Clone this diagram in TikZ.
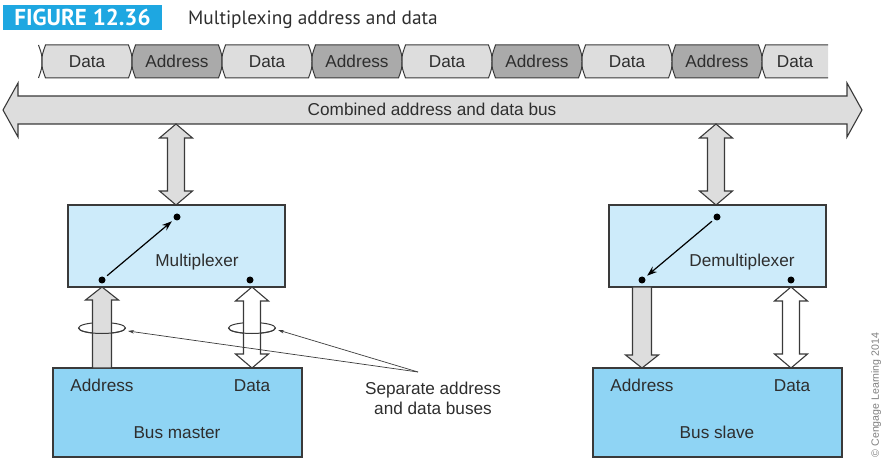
\documentclass[tikz,border=0pt]{standalone}
\usepackage{fontspec}
\setmainfont{Liberation Sans}
\newfontfamily\ptsans{PT Sans}
\usetikzlibrary{arrows.meta}
\definecolor{figblue}{HTML}{1EA7E1}
\definecolor{muxblue}{HTML}{CDEBFA}
\definecolor{boxblue}{HTML}{8FD4F4}
\definecolor{lgray}{HTML}{DDDDDD}
\definecolor{dgray}{HTML}{AAAAAA}
\definecolor{edge}{HTML}{3A3A3A}
\definecolor{txt}{HTML}{2E2E2E}
\newcommand\vdouble[4]{\draw[outl, fill=#4] (#1,#2) -- (#1+16.5,#2+14) -- (#1+8.5,#2+14) -- (#1+8.5,#3-14) -- (#1+16.5,#3-14) -- (#1,#3) -- (#1-16.5,#3-14) -- (#1-8.5,#3-14) -- (#1-8.5,#2+14) -- (#1-16.5,#2+14) -- cycle;}
\newcommand\vup[4]{\draw[outl, fill=#4] (#1,#2) -- (#1+16.5,#2+13) -- (#1+9.5,#2+13) -- (#1+9.5,#3) -- (#1-9.5,#3) -- (#1-9.5,#2+13) -- (#1-16.5,#2+13) -- cycle;}
\newcommand\vdown[4]{\draw[outl, fill=#4] (#1,#3) -- (#1+16.5,#3-13) -- (#1+9.5,#3-13) -- (#1+9.5,#2) -- (#1-9.5,#2) -- (#1-9.5,#3-13) -- (#1-16.5,#3-13) -- cycle;}
\begin{document}
\begin{tikzpicture}[x=1pt,y=-1pt,
  lbl/.style={font=\fontsize{17.2}{20}\selectfont, text=txt, inner sep=0pt, anchor=base},
  outl/.style={draw=edge, line width=1.1pt},
  dot/.style={circle, fill=black, inner sep=0pt, minimum size=7pt},
  boxstyle/.style={draw=edge, line width=1.1pt, inner sep=0pt},
  pointer/.style={draw=edge, line width=0.7pt, -{Stealth[length=6pt,width=3.5pt]}}]
\useasboundingbox (0,0) rectangle (886,462);

% title
\node[fill=figblue, text=white, font=\ptsans\bfseries\fontsize{23}{24}\selectfont, minimum width=159pt, minimum height=25pt, inner sep=0pt] (fig) at (82.5,17.5) {FIGURE 12.36};
\node[anchor=base west, inner sep=0pt, font=\ptsans\fontsize{19.3}{22}\selectfont, text=txt] (title) at (188,25) {Multiplexing address and data};

% data strip
\draw[edge, line width=1pt] (38.5,45) .. controls (42,55) .. (42,61.5) .. controls (42,68) .. (38.5,78);
\foreach \a/\b/\t/\c [count=\i] in {42/132/Data/lgray,132/222/Address/dgray,222/312/Data/lgray,312/402/Address/dgray,402/492/Data/lgray,492/582/Address/dgray,582/672/Data/lgray,672/762/Address/dgray}{
  \path[fill=\c, draw=edge, line width=1pt] (\a+3.5,45) .. controls (\a,55) .. (\a,61.5) .. controls (\a,68) .. (\a+3.5,78) -- (\b-3.5,78) .. controls (\b,68) .. (\b,61.5) .. controls (\b,55) .. (\b-3.5,45) -- cycle;
  \node[lbl] (seg\i) at ({(\a+\b)/2},67.5) {\t};
}
\fill[lgray] (765.5,45) .. controls (762,55) .. (762,61.5) .. controls (762,68) .. (765.5,78) -- (828,78) -- (828,45) -- cycle;
\draw[edge, line width=1pt] (828,45) -- (765.5,45) .. controls (762,55) .. (762,61.5) .. controls (762,68) .. (765.5,78) -- (828,78);
\node[lbl] (seg9) at (795,67.5) {Data};

% combined bus
\draw[outl, fill=lgray] (3,110) -- (18,83) -- (18,96) -- (847,96) -- (847,83) -- (862,110) -- (847,137) -- (847,124) -- (18,124) -- (18,137) -- cycle;
\node[lbl] (bus) at (432,116) {Combined address and data bus};

% boxes
\node[boxstyle, fill=muxblue, minimum width=217pt, minimum height=82pt] (mux) at (176.5,246) {};
\node[boxstyle, fill=muxblue, minimum width=217pt, minimum height=82pt] (demux) at (717.5,246) {};
\node[boxstyle, fill=boxblue, minimum width=249pt, minimum height=89pt] (master) at (177.5,412.5) {};
\node[boxstyle, fill=boxblue, minimum width=249pt, minimum height=89pt] (slave) at (717.5,412.5) {};

\node[lbl] (muxt) at (197,267) {Multiplexer};
\node[lbl] (demuxt) at (742,267) {Demultiplexer};
\node[lbl] (ma) at (102,391) {Address};
\node[lbl] (md) at (252,391) {Data};
\node[lbl] (mt) at (177,438) {Bus master};
\node[lbl] (sa) at (642,391) {Address};
\node[lbl] (sd) at (792,391) {Data};
\node[lbl] (st) at (717,438) {Bus slave};

% vertical buses
\vdouble{176}{124}{205}{lgray}
\vdouble{716}{124}{205}{lgray}
\draw[edge, line width=1pt] (102,328) ellipse (23.5 and 5.5);
\draw[edge, line width=1pt] (252,328) ellipse (23.5 and 5.5);
\vup{102}{287}{368}{lgray}
\vdouble{252}{287}{368}{white}
\draw[edge, line width=1pt] (78.5,328) arc[start angle=180, end angle=360, x radius=23.5, y radius=-5.5];
\draw[edge, line width=1pt] (228.5,328) arc[start angle=180, end angle=360, x radius=23.5, y radius=-5.5];
\vdown{642}{287}{368}{lgray}
\vdouble{791}{287}{368}{white}

% switch dots
\node[dot] (mtop) at (177,217) {};
\node[dot] (mbl) at (102,280) {};
\node[dot] (mbr) at (250,280) {};
\node[dot] (dtop) at (717,217) {};
\node[dot] (dbl) at (642,280) {};
\node[dot] (dbr) at (791,280) {};
\draw[line width=1.2pt, -{Stealth[length=10pt,width=7pt]}, shorten <=3pt, shorten >=3pt] (mbl) -- (mtop);
\draw[line width=1.2pt, -{Stealth[length=10pt,width=7pt]}, shorten <=3pt, shorten >=3pt] (dtop) -- (dbl);

% annotation
\node[lbl, align=center, anchor=base, font=\fontsize{17.2}{20}\selectfont] (sep) at (433,414) {Separate address\\and data buses};
\coordinate (sepp) at (418,372);
\coordinate (ringa) at (128,331);
\coordinate (ringd) at (278,330);
\draw[pointer] (sepp) -- (ringa);
\draw[pointer] (sepp) -- (ringd);

% copyright
\node[rotate=90, font=\fontsize{10.6}{12}\selectfont, text=gray, inner sep=0pt] (copy) at (876,395) {\textcopyright\ Cengage Learning 2014};
\end{tikzpicture}
\end{document}
